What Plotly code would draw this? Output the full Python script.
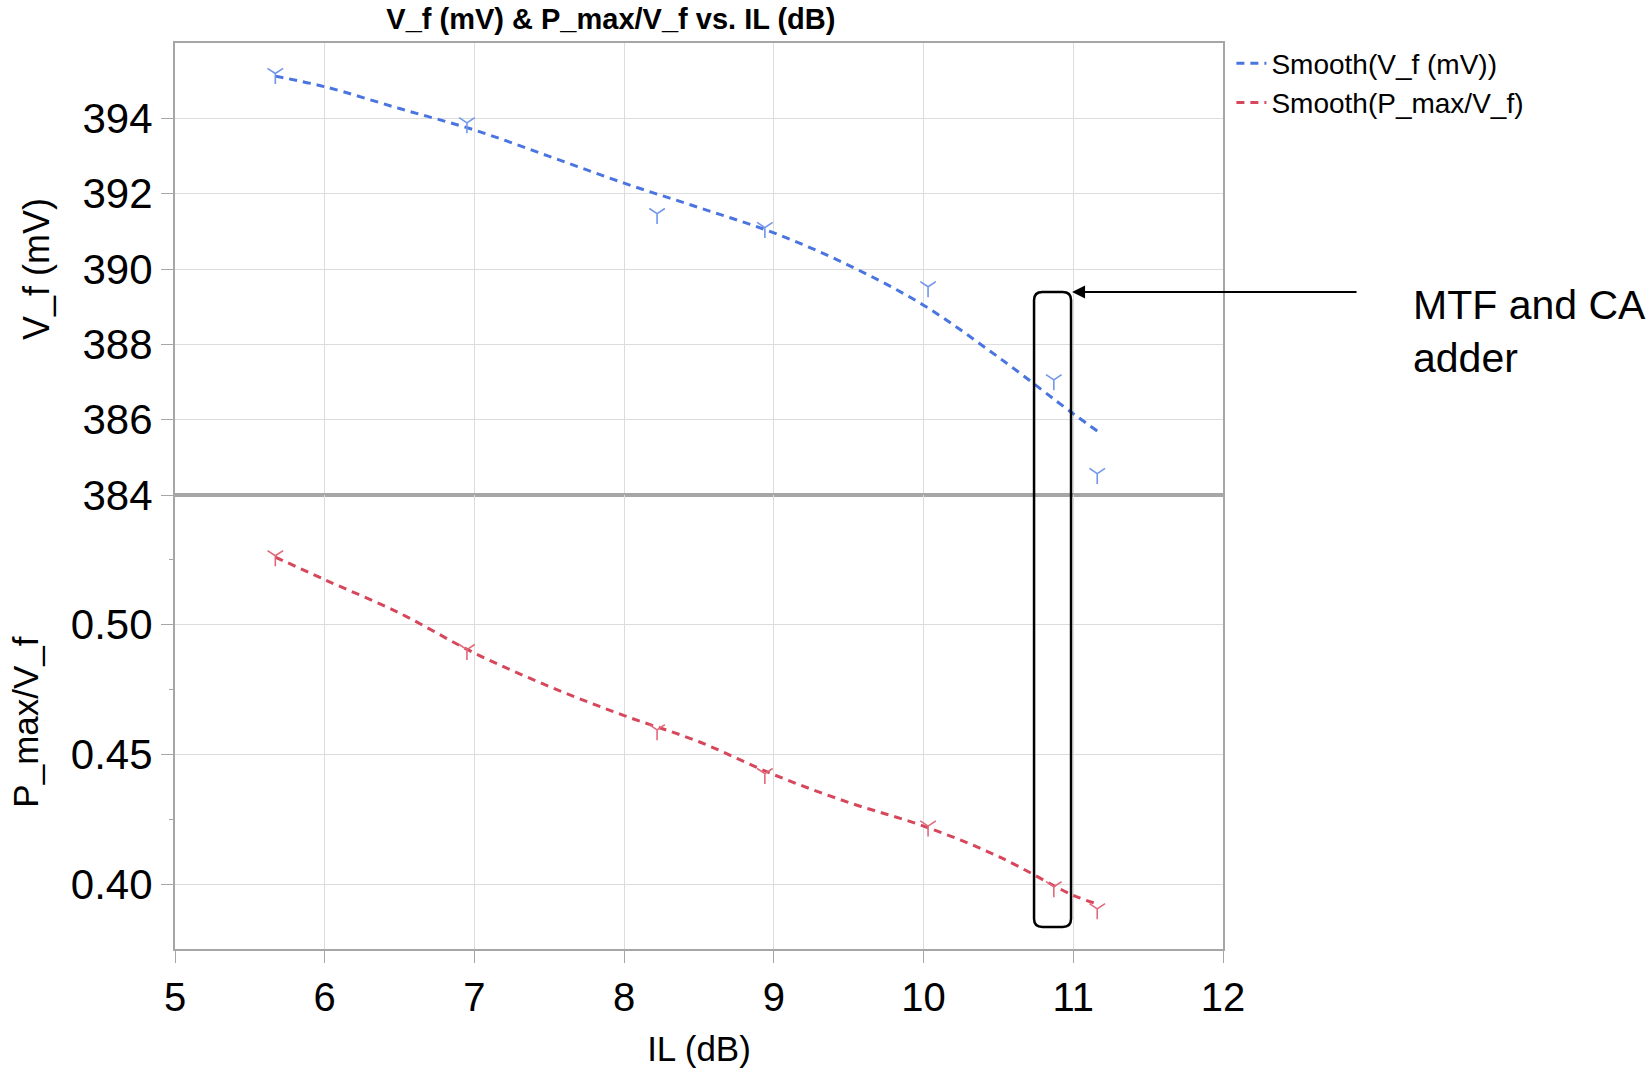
import plotly.graph_objects as go

# ---- data ----
il_pts = [5.67, 6.95, 8.22, 8.94, 10.03, 10.87, 11.16]
vf_pts = [395.19, 393.88, 391.47, 391.10, 389.53, 387.06, 384.57]
pv_pts = [0.5266, 0.4904, 0.4595, 0.4426, 0.4224, 0.3990, 0.3905]

il_smooth = [5.67, 6.0, 6.5, 7.0, 7.5, 8.0, 8.5, 9.0, 9.5, 10.0, 10.5, 11.0, 11.16]
vf_smooth = [395.12, 394.84, 394.26, 393.69, 392.99, 392.28, 391.63, 390.96, 390.10, 389.04, 387.66, 386.16, 385.70]
pv_smooth = [0.5261, 0.5174, 0.5045, 0.4891, 0.4762, 0.4650, 0.4549, 0.4422, 0.4315, 0.4224, 0.4107, 0.3957, 0.3924]

vf_ticks = [384, 386, 388, 390, 392, 394]
pv_ticks = [0.40, 0.45, 0.50]
x_ticks = [5, 6, 7, 8, 9, 10, 11, 12]

BLUE_LINE = "#4a74e0"
BLUE_MK = "#7196ea"
RED_LINE = "#d6475c"
RED_MK = "#e06a7b"
FONT = "Liberation Sans, Arial, sans-serif"
AXC = "#a6a6a6"
GRIDC = "#dcdcdc"

fig = go.Figure()

fig.add_trace(go.Scatter(x=il_smooth, y=vf_smooth, mode="lines", name="Smooth(V_f (mV))",
                         line=dict(color=BLUE_LINE, width=3, dash="8px,6px", shape="spline"),
                         xaxis="x", yaxis="y"))
fig.add_trace(go.Scatter(x=il_smooth, y=pv_smooth, mode="lines", name="Smooth(P_max/V_f)",
                         line=dict(color=RED_LINE, width=3, dash="8px,6px", shape="spline"),
                         xaxis="x2", yaxis="y2"))
fig.add_trace(go.Scatter(x=il_pts, y=vf_pts, mode="markers", showlegend=False,
                         marker=dict(symbol="y-down", size=13, line=dict(color=BLUE_MK, width=1.6)),
                         xaxis="x", yaxis="y"))
fig.add_trace(go.Scatter(x=il_pts, y=pv_pts, mode="markers", showlegend=False,
                         marker=dict(symbol="y-down", size=13, line=dict(color=RED_MK, width=1.6)),
                         xaxis="x2", yaxis="y2"))

split = 0.501
xcommon = dict(range=[5, 12], tickvals=x_ticks, showgrid=True, gridcolor=GRIDC, gridwidth=1,
               showline=True, linecolor=AXC, linewidth=2, mirror=True, zeroline=False,
               automargin=False)

fig.update_layout(
    width=1651, height=1068,
    margin=dict(l=175, r=428, t=43, b=119),
    paper_bgcolor="white", plot_bgcolor="white",
    font=dict(family=FONT, color="black"),
    title=dict(text="<b>V_f (mV) & P_max/V_f vs. IL (dB)</b>", x=0.370, xanchor="center",
               y=0.982, yanchor="middle", xref="container", yref="container",
               font=dict(size=29, family=FONT)),
    xaxis=dict(**xcommon, anchor="y", matches="x2", showticklabels=False, ticks=""),
    xaxis2=dict(**xcommon, anchor="y2", ticks="outside", ticklen=12, tickcolor=AXC, tickwidth=1,
                tickfont=dict(size=40), title=dict(text="IL (dB)", font=dict(size=35), standoff=20)),
    yaxis=dict(domain=[split, 1], range=[384, 396], tickvals=vf_ticks, showgrid=True, gridcolor=GRIDC,
               showline=True, linecolor=AXC, linewidth=2, mirror=True, zeroline=False, automargin=False,
               ticks="outside", ticklen=12, tickcolor=AXC, tickwidth=1, tickfont=dict(size=42),
               title=dict(text="V_f (mV)", font=dict(size=36), standoff=22)),
    yaxis2=dict(domain=[0, split], range=[0.375, 0.55], tickvals=pv_ticks, tickformat=".2f",
                showgrid=True, gridcolor=GRIDC, showline=True, linecolor=AXC, linewidth=2,
                mirror=True, zeroline=False, automargin=False, ticks="outside", ticklen=12,
                tickcolor=AXC, tickwidth=1, tickfont=dict(size=42),
                minor=dict(tickvals=[0.425, 0.475, 0.525], ticks="outside", ticklen=4, tickcolor=AXC,
                           showgrid=False),
                title=dict(text="P_max/V_f", font=dict(size=35), standoff=22)),
    legend=dict(x=1.008, y=1.005, xanchor="left", yanchor="top", bgcolor="rgba(0,0,0,0)",
                font=dict(size=28, family=FONT), tracegroupgap=0, itemwidth=30),
    showlegend=True,
)

# highlight box (rounded rectangle) spanning both panels
x0, x1 = 0.8197, 0.855
yb, yt = 0.0243, 0.7252
rx, ry = 0.008, 0.009
path = (f"M {x0+rx},{yt} L {x1-rx},{yt} Q {x1},{yt} {x1},{yt-ry} "
        f"L {x1},{yb+ry} Q {x1},{yb} {x1-rx},{yb} L {x0+rx},{yb} Q {x0},{yb} {x0},{yb+ry} "
        f"L {x0},{yt-ry} Q {x0},{yt} {x0+rx},{yt} Z")
fig.add_shape(type="path", path=path, xref="paper", yref="paper",
              line=dict(color="black", width=2.5), fillcolor="rgba(0,0,0,0)")

fig.add_annotation(x=0.855, y=0.7252, xref="paper", yref="paper", text="", showarrow=True,
                   ax=287, ay=0, arrowhead=2, arrowsize=1.3, arrowwidth=2, arrowcolor="black",
                   standoff=1)
fig.add_annotation(x=1.1794, y=0.682, xref="paper", yref="paper", xanchor="left", yanchor="middle",
                   align="left", text="MTF and CA<br>adder", showarrow=False,
                   font=dict(size=41, family=FONT, color="black"))

fig.write_html("out.html")
